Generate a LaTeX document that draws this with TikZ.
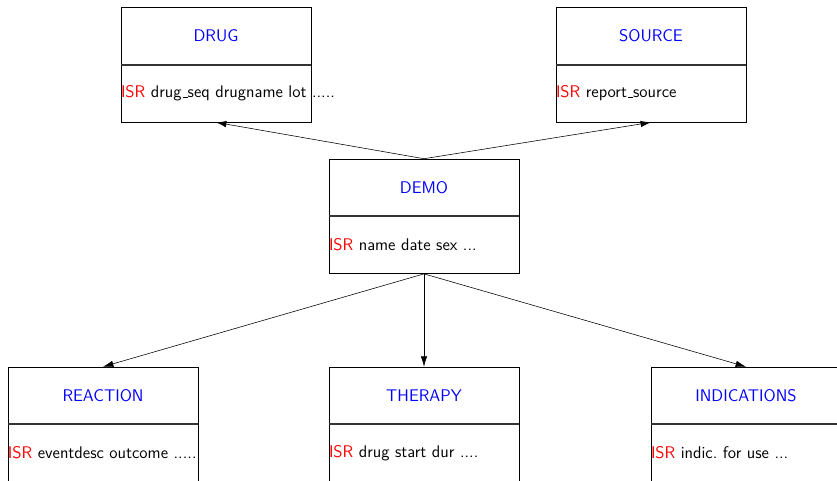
\documentclass[tikz,border=0pt]{standalone}
\usepackage{tikz}
\usetikzlibrary{positioning}
\usetikzlibrary{arrows.meta}
\newcommand{\ustrich}{\leavevmode\kern.06em\vbox{\hrule width.3em}}

\begin{document}
\begin{tikzpicture}[>={Latex[length=2.6mm,width=1.6mm]}, every node/.style={font=\large\sffamily}]
	\tikzset{
		tabelle/.style={draw, minimum width=4.75cm, minimum height=1.425cm, inner sep=0pt, text=blue},
		felder/.style={draw, minimum width=4.75cm, minimum height=1.425cm, inner sep=0pt},
		inhalt/.style={anchor=west, inner sep=0pt, text=black},
		trenner/.style={line width=1.2pt, black!80}
	}
	\useasboundingbox (0,0) rectangle (20.925,-12);
	% obere Reihe
	\node[tabelle] (drugT) at (5.4,-0.9) {DRUG};
	\node[felder, below=0pt of drugT] (drugF) {};
	\node[inhalt] (drugI) at (drugF.west) {\textcolor{red}{ISR} drug\ustrich seq drugname lot .....};
	\node[tabelle] (sourceT) at (16.275,-0.9) {SOURCE};
	\node[felder, below=0pt of sourceT] (sourceF) {};
	\node[inhalt] (sourceI) at (sourceF.west) {\textcolor{red}{ISR} report\ustrich source};
	% mitte
	\node[tabelle] (demoT) at (10.6,-4.6875) {DEMO};
	\node[felder, below=0pt of demoT] (demoF) {};
	\node[inhalt] (demoI) at (demoF.west) {\textcolor{red}{ISR} name date sex ...};
	% untere Reihe
	\node[tabelle] (reacT) at (2.575,-9.8875) {REACTION};
	\node[felder, below=0pt of reacT] (reacF) {};
	\node[inhalt] (reacI) at (reacF.west) {\textcolor{red}{ISR} eventdesc outcome .....};
	\node[tabelle] (therT) at (10.6,-9.8875) {THERAPY};
	\node[felder, below=0pt of therT] (therF) {};
	\node[inhalt] (therI) at (therF.west) {\textcolor{red}{ISR} drug start dur ....};
	\node[tabelle] (indiT) at (18.65,-9.8875) {INDICATIONS};
	\node[felder, below=0pt of indiT] (indiF) {};
	\node[inhalt] (indiI) at (indiF.west) {\textcolor{red}{ISR} indic.\ for use ...};
	% trennlinien
	\draw[trenner] (drugT.south west) -- (drugT.south east);
	\draw[trenner] (sourceT.south west) -- (sourceT.south east);
	\draw[trenner] (demoT.south west) -- (demoT.south east);
	\draw[trenner] (reacT.south west) -- (reacT.south east);
	\draw[trenner] (therT.south west) -- (therT.south east);
	\draw[trenner] (indiT.south west) -- (indiT.south east);
	% beziehungen
	\draw[->] (demoT.north) -- (drugF.south);
	\draw[->] (demoT.north) -- (sourceF.south);
	\draw[->] (demoF.south) -- (reacT.north);
	\draw[->] (demoF.south) -- (therT.north);
	\draw[->] (demoF.south) -- (indiT.north);
\end{tikzpicture}
\end{document}
